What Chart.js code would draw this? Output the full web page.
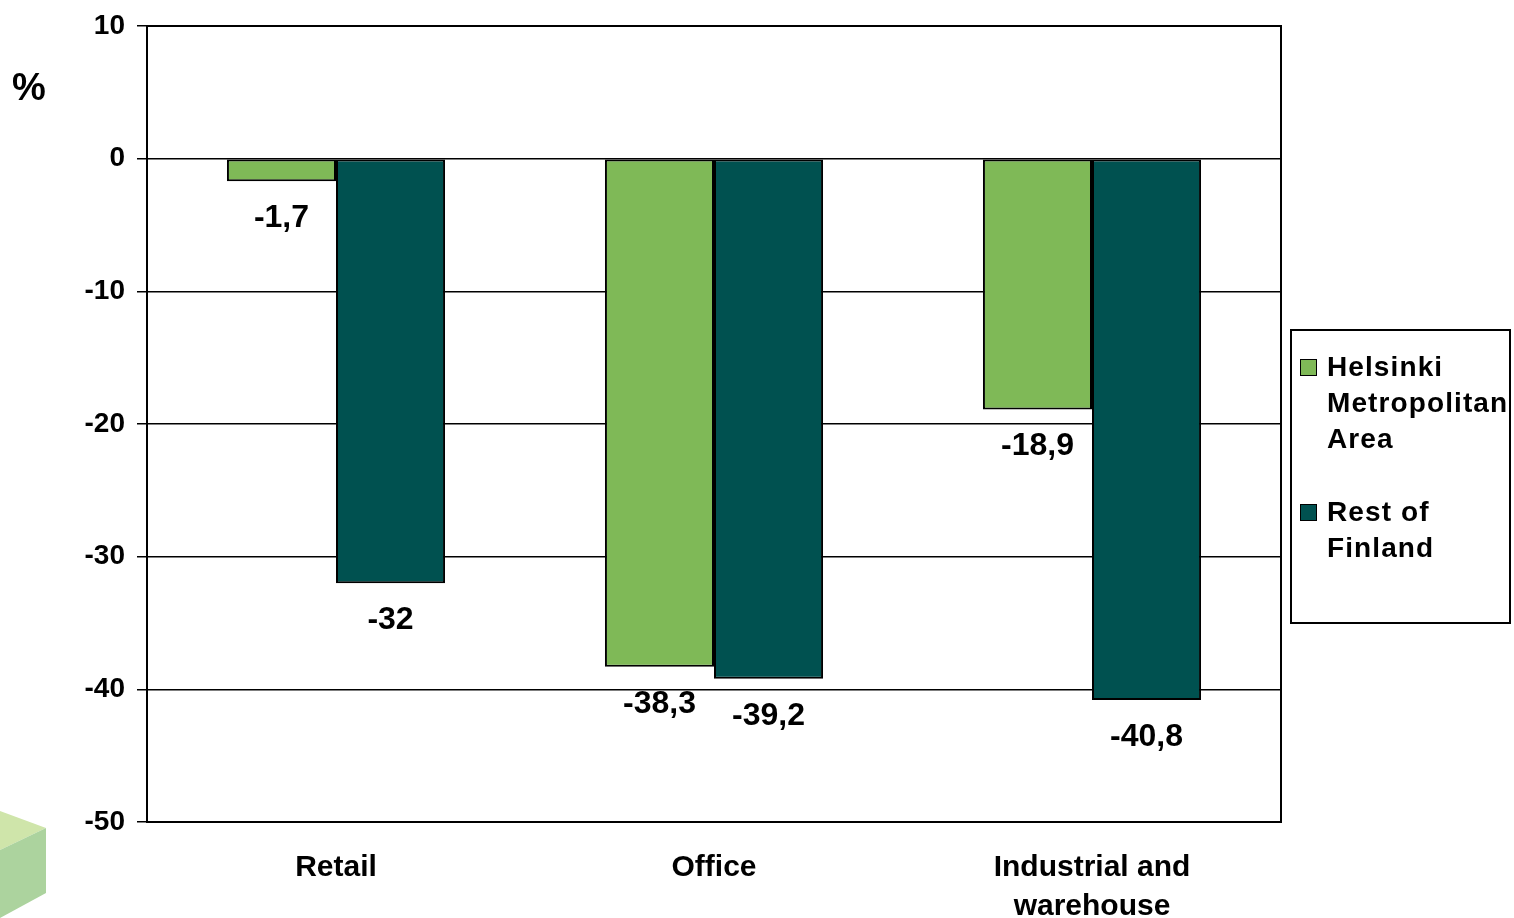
<!DOCTYPE html>
<html>
<head>
<meta charset="utf-8">
<script src="https://cdn.jsdelivr.net/npm/chart.js@4.4.0/dist/chart.umd.min.js"></script>
<style>
  body { margin: 0; background: #fff; font-family: "Liberation Sans", Arial, sans-serif; }
  .wrap { position: relative; width: 1514px; height: 918px; }
  .unit { position: absolute; left: 12px; top: 66px; font-size: 38px; font-weight: bold; }
  .legend { position: absolute; left: 1290px; top: 329px; width: 221px; height: 295px;
    border: 2px solid #000; box-sizing: border-box; font-size: 28px; font-weight: bold; }
  .item { position: absolute; left: 8px; line-height: 36px; }
  .item span.box { position: absolute; left: 0; top: 10px; width: 15px; height: 15px; border: 1.5px solid #000; }
  .item div { margin-left: 27px; letter-spacing: 1.1px; white-space: nowrap; }
</style>
</head>
<body>
<div class="wrap">
  <canvas id="chart" width="1514" height="918"></canvas>
  <div class="unit">%</div>
  <div class="legend" id="legend"></div>
</div>
<script>
"use strict";
const categories = ["Retail", "Office", ["Industrial and", "warehouse"]];
const helsinki = [-1.7, -38.3, -18.9];
const restOfFinland = [-32, -39.2, -40.8];
const seriesNames = [["Helsinki", "Metropolitan", "Area"], ["Rest of", "Finland"]];
const colors = ["#7fb957", "#005150"];

// legend as html
const legend = document.querySelector("#legend");
const legendTops = [18, 163];
seriesNames.forEach((name, i) => {
  const item = document.createElement("div");
  item.className = "item";
  item.style.top = legendTops[i] + "px";
  item.innerHTML = `<span class="box" style="background:${colors[i]}"></span><div>${name.join("<br>")}</div>`;
  legend.appendChild(item);
});

const frameAndLabels = {
  id: "frameAndLabels",
  beforeDraw(chart) {
    const ctx = chart.ctx;
    // decorative cube bottom left
    ctx.save();
    ctx.fillStyle = "#cfe5aa";
    ctx.beginPath();
    ctx.moveTo(0, 811); ctx.lineTo(46, 828); ctx.lineTo(0, 850); ctx.closePath();
    ctx.fill();
    ctx.fillStyle = "#acd39e";
    ctx.beginPath();
    ctx.moveTo(0, 850); ctx.lineTo(46, 828); ctx.lineTo(46, 893); ctx.lineTo(0, 918); ctx.closePath();
    ctx.fill();
    ctx.restore();
  },
  afterDraw(chart) {
    const ctx = chart.ctx;
    const a = chart.chartArea;
    ctx.save();
    ctx.strokeStyle = "#000";
    ctx.lineWidth = 2;
    ctx.strokeRect(a.left, a.top, a.right - a.left, a.bottom - a.top);
    ctx.font = "bold 32px 'Liberation Sans', Arial, sans-serif";
    ctx.fillStyle = "#000";
    ctx.textAlign = "center";
    ctx.textBaseline = "middle";
    chart.data.datasets.forEach((ds, i) => {
      chart.getDatasetMeta(i).data.forEach((bar, j) => {
        const txt = String(ds.data[j]).replace(".", ",");
        ctx.fillText(txt, bar.x, bar.y + 37);
      });
    });
    ctx.restore();
  }
};

new Chart(document.querySelector("#chart").getContext("2d"), {
  type: "bar",
  data: {
    labels: categories,
    datasets: [
      { label: "Helsinki Metropolitan Area", data: helsinki, backgroundColor: colors[0] },
      { label: "Rest of Finland", data: restOfFinland, backgroundColor: colors[1] },
    ],
  },
  options: {
    responsive: false,
    animation: false,
    devicePixelRatio: 1,
    layout: { padding: { top: 26, right: 233, left: 0, bottom: 0 } },
    datasets: {
      bar: {
        categoryPercentage: 0.577,
        barPercentage: 1,
        borderColor: "#000",
        borderWidth: 2,
        borderSkipped: false,
      },
    },
    plugins: { legend: { display: false }, tooltip: { enabled: false } },
    scales: {
      x: {
        grid: { display: false },
        border: { display: true, color: "#000", width: 2 },
        ticks: {
          color: "#000",
          padding: 18,
          maxRotation: 0,
          font: { family: "'Liberation Sans', Arial, sans-serif", size: 30, weight: "bold", lineHeight: 1.3 },
        },
        afterFit: (scale) => { scale.height = 96; scale.paddingLeft = 0; scale.paddingRight = 0; },
      },
      y: {
        min: -50,
        max: 10,
        ticks: {
          stepSize: 10,
          color: "#000",
          padding: 12,
          font: { family: "'Liberation Sans', Arial, sans-serif", size: 28, weight: "bold" },
        },
        grid: { color: "#000", lineWidth: 1.5, tickLength: 10 },
        border: { display: true, color: "#000", width: 2 },
        afterFit: (scale) => { scale.width = 147; scale.paddingTop = 0; scale.paddingBottom = 0; },
      },
    },
  },
  plugins: [frameAndLabels],
});
</script>
</body>
</html>
